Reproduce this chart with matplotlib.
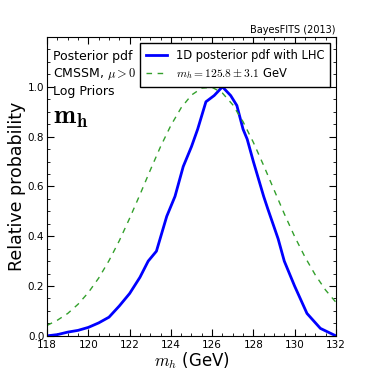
import matplotlib
matplotlib.use("Agg")
import matplotlib.pyplot as plt
from matplotlib.ticker import MultipleLocator

plt.rcParams["mathtext.fontset"] = "cm"

# 1D posterior pdf
mh_post = [118.0, 118.5, 119.0, 119.5, 120.0, 120.5, 121.0, 121.5, 122.0, 122.5,
           122.9, 123.3, 123.8, 124.2, 124.6, 125.0, 125.3, 125.7, 126.1, 126.5,
           126.9, 127.2, 127.5, 127.7, 128.0, 128.5, 128.7, 129.2, 129.5, 130.0,
           130.6, 131.25, 132.0]
p_post = [0.0, 0.005, 0.015, 0.022, 0.034, 0.052, 0.075, 0.12, 0.17, 0.235,
          0.30, 0.34, 0.48, 0.56, 0.68, 0.76, 0.83, 0.94, 0.965, 1.0,
          0.965, 0.925, 0.83, 0.79, 0.70, 0.56, 0.51, 0.39, 0.30, 0.20,
          0.09, 0.03, 0.0]

# measured mh likelihood (dashed)
mh_meas = [118.0, 118.5, 119.0, 119.5, 120.0, 120.5, 121.0, 121.5, 122.0, 122.5,
           123.0, 123.5, 124.0, 124.5, 125.0, 125.5, 126.0, 126.5, 127.0, 127.5,
           128.0, 128.5, 129.0, 129.5, 130.0, 130.5, 131.0, 131.5, 132.0]
p_meas = [0.042, 0.063, 0.090, 0.127, 0.174, 0.232, 0.302, 0.382, 0.472, 0.567,
          0.665, 0.760, 0.845, 0.916, 0.967, 0.995, 0.998, 0.975, 0.928, 0.860,
          0.777, 0.684, 0.587, 0.490, 0.399, 0.317, 0.245, 0.184, 0.135]

fig = plt.figure(figsize=(3.74, 3.74), dpi=100)
ax = fig.add_axes([0.126, 0.102, 0.772, 0.799])

ax.plot(mh_post, p_post, color="blue", lw=2, label="1D posterior pdf with LHC")
ax.plot(mh_meas, p_meas, color="#33a02c", lw=1, ls="--", dashes=(4, 4),
        label=r"$m_h=125.8\pm3.1$ GeV")

ax.set_xlim(118, 132)
ax.set_ylim(0, 1.2)
ax.set_xticks([118, 120, 122, 124, 126, 128, 130, 132])
ax.set_yticks([0.0, 0.2, 0.4, 0.6, 0.8, 1.0])
ax.xaxis.set_minor_locator(MultipleLocator(0.5))
ax.yaxis.set_minor_locator(MultipleLocator(0.05))
ax.tick_params(which="both", direction="in", top=True, right=True, labelsize=7.5, pad=2)
ax.tick_params(axis="x", pad=3)
ax.tick_params(which="major", length=5)
ax.tick_params(which="minor", length=2.5)

ax.set_xlabel(r"$m_h$ (GeV)", fontsize=12, labelpad=0)
ax.set_ylabel("Relative probability", fontsize=12.5, labelpad=1)

ax.legend(loc="upper right", fontsize=8.3, fancybox=False, edgecolor="black",
          handlelength=1.8, borderaxespad=0.5, framealpha=1, borderpad=0.5,
          labelspacing=0.4)

ax.text(0.022, 0.955, "Posterior pdf\nCMSSM, $\\mu>0$\nLog Priors",
        transform=ax.transAxes, va="top", ha="left", fontsize=9, linespacing=1.25)
ax.text(0.022, 0.69, r"$\mathbf{m_h}$", transform=ax.transAxes, fontsize=19,
        va="bottom", ha="left")
ax.text(1.0, 1.008, "BayesFITS (2013)", transform=ax.transAxes, ha="right",
        va="bottom", fontsize=7)

fig.savefig("out.png", dpi=100)
